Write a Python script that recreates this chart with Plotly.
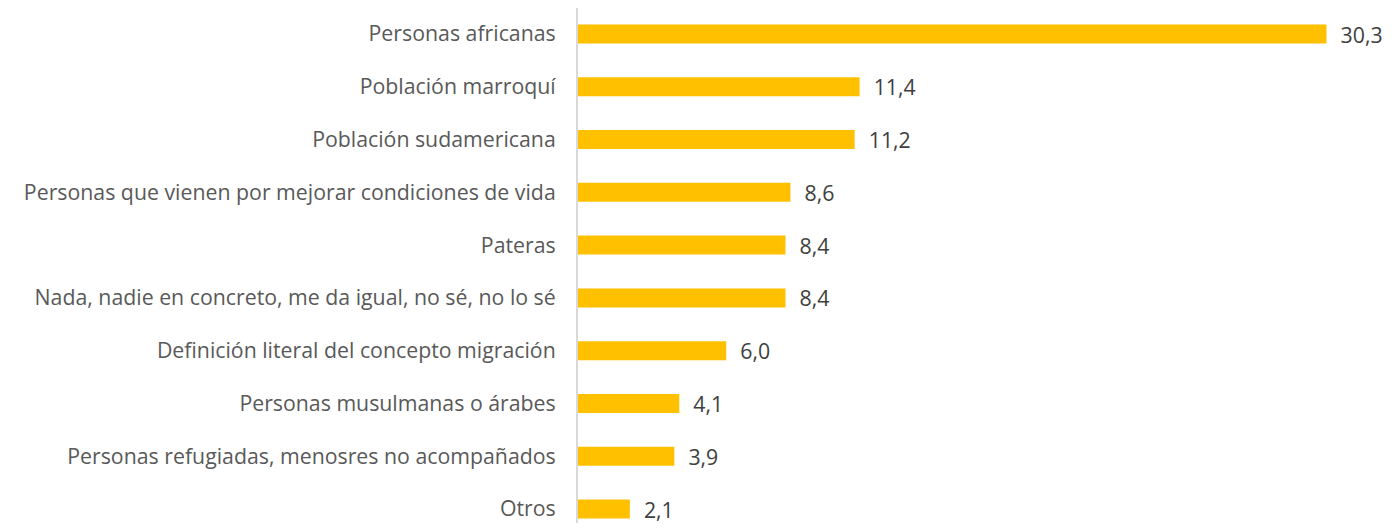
import plotly.graph_objects as go

# data
categorias = [
    "Personas africanas",
    "Población marroquí",
    "Población sudamericana",
    "Personas que vienen por mejorar condiciones de vida",
    "Pateras",
    "Nada, nadie en concreto, me da igual, no sé, no lo sé",
    "Definición literal del concepto migración",
    "Personas musulmanas o árabes",
    "Personas refugiadas, menosres no acompañados",
    "Otros",
]
valores = [30.3, 11.4, 11.2, 8.6, 8.4, 8.4, 6.0, 4.1, 3.9, 2.1]
etiquetas = ["\u00a0\u00a0" + f"{v:.1f}".replace(".", ",") for v in valores]

fig = go.Figure()
fig.add_trace(go.Bar(
    x=valores,
    y=categorias,
    orientation="h",
    marker=dict(color="#FFC000", line=dict(width=0)),
    text=etiquetas,
    textposition="outside",
    constraintext="none",
    textfont=dict(family="Open Sans", size=21.3, color="#404040"),
    cliponaxis=False,
))

# page body has an 8px margin, so the figure is sized/placed to compensate
fig.update_layout(
    width=1379, height=515,
    margin=dict(l=570, r=0, t=0, b=0),
    paper_bgcolor="white", plot_bgcolor="white",
    bargap=0.64,
    showlegend=False,
    font=dict(family="Open Sans", size=21.3, color="#595959"),
    xaxis=dict(range=[0, 32.75], visible=False, showgrid=False, zeroline=False),
    yaxis=dict(
        categoryorder="array", categoryarray=categorias,
        range=[9.265, -0.4926],
        showline=True, linecolor="#D9D9D9", linewidth=2,
        ticks="", ticklabelstandoff=16,
        showgrid=False, zeroline=False,
    ),
)

fig.write_html("out.html")
